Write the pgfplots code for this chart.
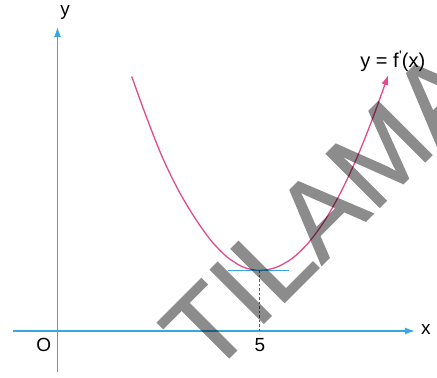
\documentclass[border=0pt]{standalone}
\usepackage{fontspec}
\setmainfont{Liberation Sans}
\newfontfamily\wmfont[FakeBold=1.2]{Liberation Sans}
\usepackage{pgfplots}
\pgfplotsset{compat=1.18}
\usetikzlibrary{arrows.meta}
\definecolor{axblue}{HTML}{39A6DF}
\definecolor{curvepink}{HTML}{E24A8D}
\definecolor{dashblue}{HTML}{1F6E9C}
\begin{document}
\begin{tikzpicture}
\begin{axis}[
  scale only axis, width=437pt, height=377pt,
  xmin=-1.423, xmax=9.394, ymin=-1.139, ymax=8.193,
  hide axis, clip=false,
]
% axes
\addplot[axblue, line width=1.4pt, -{Latex[length=10pt,width=7pt]}] coordinates {(-1.101,0) (8.849,0)};
\addplot[axblue, line width=1.4pt, -{Latex[length=10pt,width=7pt]}] coordinates {(0,-1.015) (0,7.525)};
% curve y = f'(x)
\addplot[curvepink, line width=1.3pt, smooth, -{Latex[length=10pt,width=7pt]}] coordinates {
(1.837,6.300) (2.2,5.300) (2.6,4.290) (3.0,3.470) (3.4,2.800) (3.8,2.240)
(4.2,1.830) (4.6,1.580) (5.0,1.498) (5.4,1.570) (5.8,1.790) (6.2,2.170)
(6.6,2.710) (7.0,3.410) (7.4,4.260) (7.8,5.260) (8.188,6.337)};
% tangent at minimum
\addplot[axblue, line width=1.3pt] coordinates {(4.22,1.498) (5.74,1.498)};
\addplot[dashblue, line width=1pt, dash pattern=on 2.5pt off 2pt] coordinates {(5,1.498) (5,0)};
% watermark
\begin{scope}[transparency group, opacity=0.45]
\node[anchor=base west, rotate=45, text=black, font=\wmfont\fontsize{110}{116}\selectfont, inner sep=0pt]
  at (axis cs:3.75,-1.163) {TILAMA};
\end{scope}
% labels
\node[font=\fontsize{19}{20}\selectfont] at (axis cs:0.186,7.896) {y};
\node[font=\fontsize{19}{20}\selectfont] at (axis cs:9.121,0.025) {x};
\node[font=\fontsize{19}{20}\selectfont] at (axis cs:-0.339,-0.347) {O};
\node[font=\fontsize{19}{20}\selectfont] at (axis cs:5.01,-0.347) {5};
\node[font=\fontsize{20}{22}\selectfont] at (axis cs:8.30,6.68) {y = f\kern0.5pt\textsuperscript{\textquotesingle}\kern-0.5pt(x)};
\coordinate (BL) at (rel axis cs:0,0);
\coordinate (TR) at (rel axis cs:1,1);
\end{axis}
\pgfresetboundingbox
\useasboundingbox (BL) rectangle (TR);
\end{tikzpicture}
\end{document}
